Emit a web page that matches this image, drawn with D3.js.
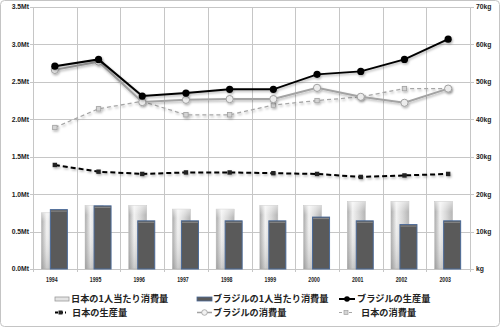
<!DOCTYPE html>
<html><head><meta charset="utf-8">
<script src="https://cdn.jsdelivr.net/npm/d3@7"></script>
<style>
html,body{margin:0;padding:0;background:#fff;}
svg{display:block;}
text{font-family:"Liberation Sans",Arial,sans-serif;}
.lg{font-family:"Noto Sans CJK JP",sans-serif;font-weight:bold;font-size:9.2px;fill:#222;}
</style></head>
<body>
<svg id="c" width="500" height="327"></svg>
<script>
const years = ["1994","1995","1996","1997","1998","1999","2000","2001","2002","2003"];
const japanPerCapita = [15, 17, 17, 16, 16, 17, 17, 18, 18, 18];      // kg
const brazilPerCapita = [16, 17, 13, 13, 13, 13, 14, 13, 12, 13];     // kg
const brazilProduction = [2.71, 2.80, 2.31, 2.35, 2.40, 2.40, 2.60, 2.64, 2.80, 3.07]; // Mt
const brazilConsumption = [2.66, 2.77, 2.23, 2.26, 2.27, 2.27, 2.42, 2.30, 2.22, 2.41]; // Mt
const japanProduction = [1.39, 1.30, 1.27, 1.29, 1.29, 1.28, 1.27, 1.23, 1.25, 1.27]; // Mt
const japanConsumption = [1.89, 2.14, 2.24, 2.06, 2.06, 2.19, 2.25, 2.30, 2.41, 2.41]; // Mt
const leftTicks = [0, 0.5, 1.0, 1.5, 2.0, 2.5, 3.0, 3.5];
const leftTickLabels = ["0.0Mt","0.5Mt","1.0Mt","1.5Mt","2.0Mt","2.5Mt","3.0Mt","3.5Mt"];
const rightTicks = [0, 10, 20, 30, 40, 50, 60, 70];
const rightTickLabels = ["kg","10kg","20kg","30kg","40kg","50kg","60kg","70kg"];
const legendLabels = ["日本の1人当たり消費量","ブラジルの1人当たり消費量","ブラジルの生産量","日本の生産量","ブラジルの消費量","日本の消費量"];

const svg = d3.select("#c");
const L = 33, R = 470, T = 7, B = 269;
const x = d3.scaleBand().domain(years).range([L, R]).paddingInner(0).paddingOuter(0);
const yL = d3.scaleLinear().domain([0, 3.5]).range([B, T]);
const yR = d3.scaleLinear().domain([0, 70]).range([B, T]);

const defs = svg.append("defs");
const g1 = defs.append("linearGradient").attr("id","lightBar").attr("x1","0").attr("x2","1").attr("y1","0").attr("y2","0");
g1.append("stop").attr("offset","0%").attr("stop-color","#a9a9a9");
g1.append("stop").attr("offset","30%").attr("stop-color","#f2f2f2");
g1.append("stop").attr("offset","65%").attr("stop-color","#d6d6d6");
g1.append("stop").attr("offset","100%").attr("stop-color","#b4b4b4");
const g1v = defs.append("linearGradient").attr("id","lightBarV").attr("x1","0").attr("x2","0").attr("y1","0").attr("y2","1");
g1v.append("stop").attr("offset","0%").attr("stop-color","#ffffff").attr("stop-opacity",0.5);
g1v.append("stop").attr("offset","15%").attr("stop-color","#ffffff").attr("stop-opacity",0);
g1v.append("stop").attr("offset","100%").attr("stop-color","#808080").attr("stop-opacity",0.35);
const sh = defs.append("filter").attr("id","shadow").attr("x","-20%").attr("y","-20%").attr("width","140%").attr("height","140%");
sh.append("feDropShadow").attr("dx",1).attr("dy",1.5).attr("stdDeviation",0.8).attr("flood-color","#000").attr("flood-opacity",0.3);

// outer border
svg.append("rect").attr("x",0.5).attr("y",0.5).attr("width",499).attr("height",326).attr("rx",4)
  .attr("fill","#fff").attr("stroke","#c4c4c4");

// grid
const grid = svg.append("g").attr("stroke","#c6c6c6").attr("stroke-width",1).attr("shape-rendering","crispEdges");
leftTicks.forEach(v => grid.append("line").attr("x1",L-3).attr("x2",R+4).attr("y1",Math.round(yL(v))+0.5).attr("y2",Math.round(yL(v))+0.5));
const bounds = years.map(y => x(y)).concat([R]);
bounds.forEach(b => grid.append("line").attr("x1",Math.round(b)+0.5).attr("x2",Math.round(b)+0.5).attr("y1",T).attr("y2",B+3));

// axes labels
svg.append("g").selectAll("text").data(leftTicks).join("text")
  .attr("x",29).attr("y",d=>yL(d)).attr("dy","0.35em").attr("text-anchor","end")
  .attr("font-size",6.8).attr("font-weight","bold").attr("fill","#222")
  .text((d,i)=>leftTickLabels[i]);
svg.append("g").selectAll("text").data(rightTicks).join("text")
  .attr("x",476).attr("y",d=>yR(d)).attr("dy","0.35em").attr("text-anchor","start")
  .attr("font-size",6.8).attr("font-weight","bold").attr("fill","#222")
  .text((d,i)=>rightTickLabels[i]);
svg.append("g").selectAll("text").data(years).join("text")
  .attr("x",d=>x(d)+x.bandwidth()/2-3).attr("y",280).attr("dy","0.35em").attr("text-anchor","middle")
  .attr("font-size",6.8).attr("font-weight","bold").attr("fill","#222")
  .attr("textLength",11.5).attr("lengthAdjust","spacingAndGlyphs")
  .text(d=>d);

// bars
const bw = 18;
const bars = svg.append("g");
const jb = bars.selectAll("g.jb").data(years).join("g").attr("class","jb");
jb.append("rect").attr("x",d=>x(d)+x.bandwidth()/2-13.5).attr("width",bw)
  .attr("y",(d,i)=>yR(japanPerCapita[i])).attr("height",(d,i)=>B-yR(japanPerCapita[i]))
  .attr("fill","url(#lightBar)").attr("stroke","#bdbdbd").attr("stroke-width",0.5);
jb.append("rect").attr("x",d=>x(d)+x.bandwidth()/2-13.5).attr("width",bw)
  .attr("y",(d,i)=>yR(japanPerCapita[i])).attr("height",(d,i)=>B-yR(japanPerCapita[i]))
  .attr("fill","url(#lightBarV)");
const bb = bars.selectAll("g.bb").data(years).join("g").attr("class","bb");
bb.append("rect").attr("x",d=>x(d)+x.bandwidth()/2-5+0.5).attr("width",bw-1)
  .attr("y",(d,i)=>yR(brazilPerCapita[i])+0.5).attr("height",(d,i)=>B-yR(brazilPerCapita[i])-0.5)
  .attr("fill","#5a5a5a").attr("stroke","#4b6a98").attr("stroke-width",1);
bb.append("line").attr("x1",d=>x(d)+x.bandwidth()/2-4).attr("x2",d=>x(d)+x.bandwidth()/2+12)
  .attr("y1",(d,i)=>yR(brazilPerCapita[i])+2).attr("y2",(d,i)=>yR(brazilPerCapita[i])+2)
  .attr("stroke","#8a8a8a").attr("stroke-width",1);

const cx = d => x(d) + x.bandwidth()/2;
const line = arr => d3.line().x((d,i)=>cx(years[i])).y(d=>yL(d))(arr);

// Japan production
const gjp = svg.append("g").attr("filter","url(#shadow)");
gjp.append("path").attr("d",line(japanProduction)).attr("fill","none").attr("stroke","#000").attr("stroke-width",2).attr("stroke-dasharray","5,3");
gjp.selectAll("rect").data(japanProduction).join("rect")
  .attr("x",(d,i)=>cx(years[i])-2.2).attr("y",d=>yL(d)-2.2).attr("width",4.4).attr("height",4.4).attr("fill","#222");

// Japan consumption
const gjc = svg.append("g").attr("filter","url(#shadow)");
gjc.append("path").attr("d",line(japanConsumption)).attr("fill","none").attr("stroke","#a6a6a6").attr("stroke-width",1.3).attr("stroke-dasharray","4,3");
gjc.selectAll("rect").data(japanConsumption).join("rect")
  .attr("x",(d,i)=>cx(years[i])-2.2).attr("y",d=>yL(d)-2.2).attr("width",4.4).attr("height",4.4)
  .attr("fill","#d4d4d4").attr("stroke","#a0a0a0").attr("stroke-width",0.8);

// Brazil consumption
const gbc = svg.append("g").attr("filter","url(#shadow)");
gbc.append("path").attr("d",line(brazilConsumption)).attr("fill","none").attr("stroke","#a3a3a3").attr("stroke-width",2);
gbc.selectAll("circle").data(brazilConsumption).join("circle")
  .attr("cx",(d,i)=>cx(years[i])).attr("cy",d=>yL(d)).attr("r",3.6)
  .attr("fill","#ececec").attr("stroke","#a0a0a0").attr("stroke-width",1);

// Brazil production
const gbp = svg.append("g").attr("filter","url(#shadow)");
gbp.append("path").attr("d",line(brazilProduction)).attr("fill","none").attr("stroke","#000").attr("stroke-width",2);
gbp.selectAll("circle").data(brazilProduction).join("circle")
  .attr("cx",(d,i)=>cx(years[i])).attr("cy",d=>yL(d)).attr("r",3.6).attr("fill","#000");

// legend
const lg = svg.append("g");
const r1 = 299, r2 = 312.5;
// item 1: light bar swatch
lg.append("rect").attr("x",55).attr("y",r1-2).attr("width",14).attr("height",4).attr("fill","#e4e4e4").attr("stroke","#9a9a9a").attr("stroke-width",0.8);
lg.append("text").attr("class","lg").attr("x",71).attr("y",r1).attr("dy","0.36em").text(legendLabels[0]);
// item 2: dark bar swatch
lg.append("rect").attr("x",197).attr("y",r1-2).attr("width",15).attr("height",4).attr("fill","#5a5a5a").attr("stroke","#4b6a98").attr("stroke-width",0.8);
lg.append("text").attr("class","lg").attr("x",213).attr("y",r1).attr("dy","0.36em").text(legendLabels[1]);
// item 3: black line + circle
lg.append("line").attr("x1",339).attr("x2",355).attr("y1",r1).attr("y2",r1).attr("stroke","#000").attr("stroke-width",2);
lg.append("circle").attr("cx",347).attr("cy",r1).attr("r",2.8).attr("fill","#000");
lg.append("text").attr("class","lg").attr("x",357).attr("y",r1).attr("dy","0.36em").text(legendLabels[2]);
// item 4: black dashed + square
lg.append("line").attr("x1",55).attr("x2",66).attr("y1",r2).attr("y2",r2).attr("stroke","#000").attr("stroke-width",2).attr("stroke-dasharray","3,2");
lg.append("rect").attr("x",58.5).attr("y",r2-2).attr("width",4).attr("height",4).attr("fill","#222");
lg.append("text").attr("class","lg").attr("x",72).attr("y",r2).attr("dy","0.36em").text(legendLabels[3]);
// item 5: gray line + white circle
lg.append("line").attr("x1",197).attr("x2",212).attr("y1",r2).attr("y2",r2).attr("stroke","#a3a3a3").attr("stroke-width",1.5);
lg.append("circle").attr("cx",204.5).attr("cy",r2).attr("r",2.8).attr("fill","#f2f2f2").attr("stroke","#a0a0a0").attr("stroke-width",0.8);
lg.append("text").attr("class","lg").attr("x",213).attr("y",r2).attr("dy","0.36em").text(legendLabels[4]);
// item 6: gray dashed + square
lg.append("line").attr("x1",339).attr("x2",353).attr("y1",r2).attr("y2",r2).attr("stroke","#a6a6a6").attr("stroke-width",1.2).attr("stroke-dasharray","3,2");
lg.append("rect").attr("x",344).attr("y",r2-2).attr("width",4).attr("height",4).attr("fill","#d4d4d4").attr("stroke","#a0a0a0").attr("stroke-width",0.7);
lg.append("text").attr("class","lg").attr("x",361).attr("y",r2).attr("dy","0.36em").text(legendLabels[5]);
</script>
</body></html>
